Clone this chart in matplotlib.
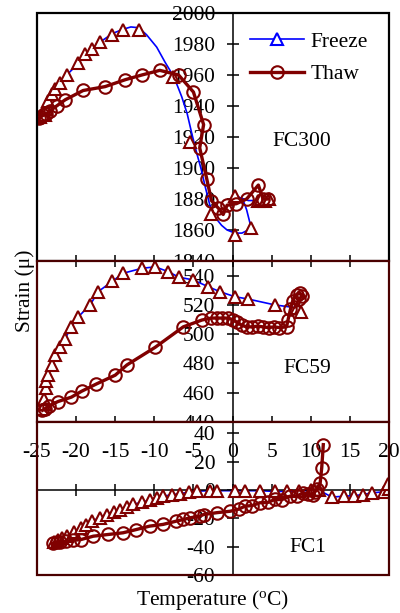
import numpy as np
import matplotlib
matplotlib.use("Agg")
import matplotlib.pyplot as plt
from matplotlib.lines import Line2D
from matplotlib.patches import Rectangle

plt.rcParams['font.family'] = ['Liberation Serif', 'DejaVu Serif']
plt.rcParams['mathtext.fontset'] = 'custom'
plt.rcParams['mathtext.rm'] = 'Liberation Serif'
plt.rcParams['axes.unicode_minus'] = False

# ---- FC300 (top) ----
fc300_freeze_line_x = [-24.6, -24.0, -23.5, -23.0, -22.0, -21.0, -20.0, -19.0, -18.0, -17.0, -16.0, -15.0,
                       -14.0, -13.0, -12.0, -11.0, -9.7, -8.6, -8.0, -7.2, -6.5, -5.8, -5.2, -4.6, -4.0,
                       -3.5, -2.9, -2.2, -1.4, -0.7, 0.3, 1.2, 2.4, 1.8, 1.3, 0.3, 2.0, 3.2, 4.6]
fc300_freeze_line_y = [1933, 1936, 1943, 1948, 1955, 1961, 1966, 1972, 1977, 1981, 1984.5, 1987.5,
                       1989.5, 1991, 1990.5, 1986, 1978, 1968, 1963, 1955, 1946, 1935, 1922, 1910, 1899,
                       1888, 1876, 1868, 1863, 1860, 1858, 1858, 1861, 1873, 1880, 1882, 1879, 1879, 1880]
fc300_freeze_x = [-24.6, -24.3, -24.0, -23.8, -23.6, -23.1, -22.7, -22.1, -21.2, -19.7, -18.9, -18.0,
                  -16.9, -15.4, -14.0, -12.0, -7.6, -5.4, -2.7, 0.3, 2.4, 0.3, 3.2, 3.7, 4.2, 4.6]
fc300_freeze_y = [1933, 1935, 1934, 1938, 1943, 1948, 1951, 1955, 1960, 1967.5, 1973.5, 1977,
                  1981.5, 1986, 1989, 1989, 1959, 1917, 1870, 1857, 1861, 1882, 1879, 1880, 1879, 1880]
fc300_thaw_x = [-24.8, -24.5, -24.2, -23.8, -23.3, -22.5, -21.4, -19.1, -16.3, -13.7, -11.6, -9.3,
                -6.9, -5.0, -3.7, -4.2, -3.3, -2.7, -1.8, -1.2, -0.7, 0.5, 1.8, 3.3, 3.9, 4.5]
fc300_thaw_y = [1932, 1933, 1934, 1935, 1937, 1940, 1944, 1950, 1952.5, 1957, 1960, 1963,
                1960, 1949, 1928, 1913, 1893, 1879, 1874, 1870, 1876, 1877, 1880, 1889, 1880, 1880]

# ---- FC59 (middle) ----
fc59_freeze_x = [-24.3, -24.0, -24.1, -23.8, -23.9, -23.6, -23.1, -22.7, -22.1, -21.4, -20.6, -19.7,
                 -18.2, -17.2, -15.4, -14.0, -11.6, -9.9, -8.2, -6.9, -5.0, -3.1, -1.6, 0.3, 2.0,
                 5.4, 8.2, 8.8]
fc59_freeze_y = [449, 452, 456, 463, 468, 472, 479, 486, 491, 497, 505, 512,
                 520, 529, 536, 541.6, 545, 546, 542.7, 539, 537, 532.4, 529, 525.6, 524,
                 520, 518, 515]
fc59_thaw_x = [-24.3, -24.0, -23.5, -22.3, -20.6, -19.3, -17.4, -15.0, -13.5, -9.9, -6.3, -3.9,
               -2.7, -2.0, -1.3, -0.6, 0.0, 0.6, 1.2, 1.8, 2.5, 3.2, 3.9, 4.6, 5.3, 6.0, 6.9,
               7.1, 7.4, 7.7, 8.2, 8.6, 8.9, 8.5]
fc59_thaw_y = [448, 449, 451, 454, 457, 461, 466, 472, 479, 491, 505, 509.7,
               511, 511, 511, 511, 510, 508, 506, 505, 505, 505.5, 505, 504.5, 505, 504.5, 505,
               510, 517, 523, 527, 528, 526, 524]

# ---- FC1 (bottom) ----
fc1_freeze_x = [-22.8, -22.3, -21.8, -21.2, -20.3, -19.4, -18.7, -18.0, -17.0, -16.1, -15.2, -14.4,
                -13.5, -12.7, -11.6, -10.6, -9.7, -8.9, -7.8, -6.7, -5.6, -4.6, -2.9, -2.0, 0.3,
                1.6, 3.5, 5.4, 6.9, 8.5, 10.0, 11.0, 12.7, 14.2, 15.5, 16.7, 17.8, 19.3, 20.0, 19.9]
fc1_freeze_y = [-37, -35.5, -34, -32.6, -29.5, -26.7, -24.5, -22, -19.5, -17.3, -15.5, -13.8,
                -12, -10.2, -8.6, -7.2, -5.8, -4.4, -3.4, -2.5, -1.6, -0.8, -0.5, -0.5, -0.5,
                -0.5, -0.5, -1.0, -1.0, -0.6, -0.3, 0.0, -5.0, -4.4, -4.0, -3.2, -2.0, -1.3, 1.0, 4.0]
fc1_thaw_x = [-22.9, -22.5, -22.0, -21.3, -20.4, -19.4, -17.8, -15.9, -14.0, -12.3, -10.6, -8.9,
              -7.2, -6.3, -5.4, -4.2, -3.7, -2.0, -0.3, 0.8, 1.6, 2.5, 3.5, 4.5, 5.4, 6.3, 7.3,
              8.2, 9.0, 9.6, 10.3, 10.5, 10.8, 11.2, 11.4, 11.6]
fc1_thaw_y = [-37.5, -36.5, -37, -36, -35.5, -35, -32.6, -31.4, -30.2, -27.9, -25.5, -24.3,
              -22, -20.8, -19.6, -18.5, -17.3, -16, -15, -13.5, -11.4, -11, -9, -8.8, -6.7, -6.8, -4.4,
              -4.5, -2, -2.6, -3.2, -1.5, 0.4, 5, 15.7, 32]

panels = [
    ("FC300", fc300_freeze_line_x, fc300_freeze_line_y, fc300_freeze_x, fc300_freeze_y,
     fc300_thaw_x, fc300_thaw_y, (1840, 2000), np.arange(1840, 2001, 20)),
    ("FC59", fc59_freeze_x, fc59_freeze_y, fc59_freeze_x, fc59_freeze_y,
     fc59_thaw_x, fc59_thaw_y, (440, 550), np.arange(440, 541, 20)),
    ("FC1", fc1_freeze_x, fc1_freeze_y, fc1_freeze_x, fc1_freeze_y,
     fc1_thaw_x, fc1_thaw_y, (-60, 48), np.arange(-60, 41, 20)),
]
label_pos = [(0.753, 0.48), (0.767, 0.335), (0.77, 0.183)]
xticks = np.arange(-25, 21, 5)

W, H = 400, 613
fig = plt.figure(figsize=(W / 100, H / 100), dpi=100)
rects = [(13, 261), (261, 422), (422, 575)]
L, R = 37, 389
red = '#800000'
fs = 15.5

for i, (name, flx, fly, fx, fy, tx, ty, ylim, yticks) in enumerate(panels):
    top, bot = rects[i]
    ax = fig.add_axes([L / W, 1 - bot / H, (R - L) / W, (bot - top) / H])
    ax.set_xlim(-25, 20)
    ax.set_ylim(*ylim)
    ax.plot(flx, fly, color='blue', lw=1.2, zorder=2)
    ax.plot(fx, fy, ls='none', marker='^', ms=8.5, mfc='white', mec=red, mew=1.5, zorder=3)
    ax.plot(tx, ty, color=red, lw=2.4, marker='o', ms=9, mfc='none', mec=red, mew=1.5, zorder=4)

    for s in ['top', 'right', 'bottom']:
        ax.spines[s].set_visible(False)
    ax.spines['left'].set_position(('data', 0))
    ax.spines['left'].set_linewidth(1.1)
    ax.set_yticks(yticks)
    ax.tick_params(axis='y', direction='inout', length=9, width=1.1, pad=8, labelsize=fs)
    frame_col = 'black' if i == 0 else '#4a0000'
    ax.add_patch(Rectangle((0, 0), 1, 1, transform=ax.transAxes, fill=False,
                           lw=1.6, ec=frame_col, clip_on=False, zorder=6))
    if i == 0:
        ax.set_xticks([])
    elif i == 1:
        ax.set_xticks(xticks)
        ax.tick_params(axis='x', direction='inout', length=9, width=1.1, top=True,
                       labelbottom=False)
    else:
        ax.spines['bottom'].set_visible(True)
        ax.spines['bottom'].set_position(('data', 0))
        ax.spines['bottom'].set_linewidth(1.1)
        ax.set_xticks(xticks)
        ax.tick_params(axis='x', direction='inout', length=9, width=1.1, pad=-38, labelsize=fs)
    ax.text(label_pos[i][0], label_pos[i][1], name, transform=ax.transAxes,
            ha='center', va='center', fontsize=fs)
    if i == 0:
        handles = [Line2D([], [], color='blue', lw=1.2, marker='^', ms=8.5, mfc='white', mec='blue', mew=1.5),
                   Line2D([], [], color=red, lw=2.4, marker='o', ms=9, mfc='none', mec=red, mew=1.5)]
        ax.legend(handles, ['Freeze', 'Thaw'], loc='upper left', bbox_to_anchor=(0.605, 0.925),
                  frameon=False, fontsize=fs, handlelength=2.5, handletextpad=0.3,
                  labelspacing=0.58, borderpad=0, borderaxespad=0)

fig.text(213 / W, 1 - 600 / H, 'Temperature ($\\mathrm{^{o}}$C)', ha='center', va='center', fontsize=fs)
fig.text(25 / W, 1 - 291 / H, 'Strain (\u03bc)', ha='center', va='center', rotation=90, fontsize=fs)

fig.savefig('out.png', dpi=100)
